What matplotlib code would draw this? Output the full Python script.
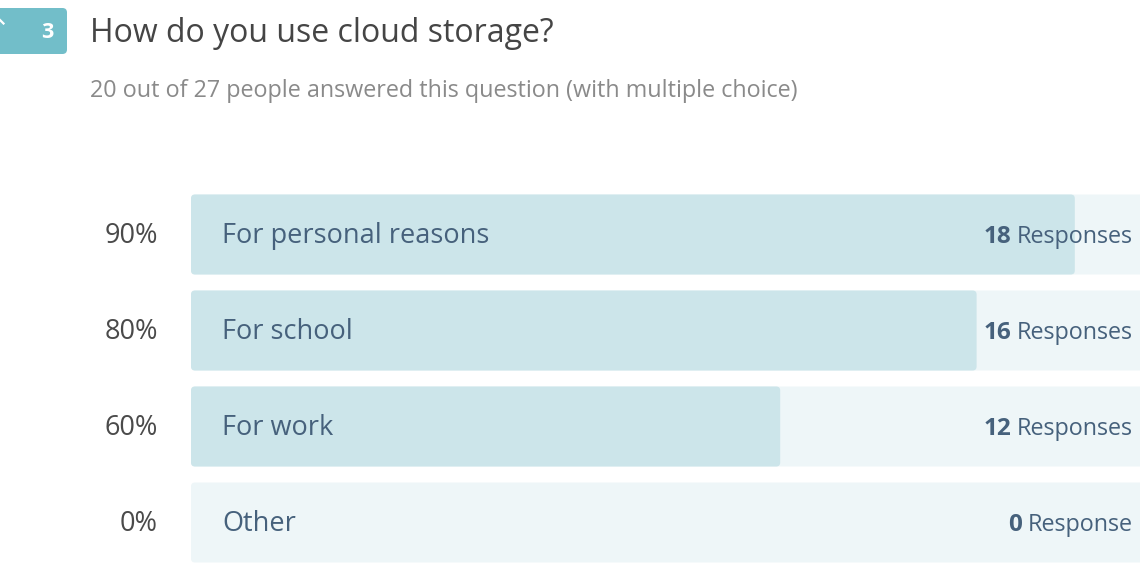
import matplotlib
matplotlib.use("Agg")
import matplotlib.pyplot as plt
from matplotlib.patches import FancyBboxPatch
import matplotlib.transforms as mtransforms

# ---- data ----
categories = ["For personal reasons", "For school", "For work", "Other"]
percents = [90, 80, 60, 0]
responses = [18, 16, 12, 0]
question_number = "3"
title = "How do you use cloud storage?"
subtitle = "20 out of 27 people answered this question (with multiple choice)"

FONT = ["Open Sans", "DejaVu Sans"]
plt.rcParams["font.family"] = FONT

W, H = 1140, 574
fig = plt.figure(figsize=(W / 100, H / 100), dpi=100)
fig.patch.set_facecolor("white")

def fx(px):
    return px / W

def fy(py):
    return 1 - py / H

# ---- header ----
badge = FancyBboxPatch((fx(-20), fy(54)), fx(87), (54 - 8) / H,
                       boxstyle="round,pad=0,rounding_size=0.004",
                       mutation_aspect=W / H,
                       transform=fig.transFigure, facecolor="#72bec9",
                       edgecolor="none")
fig.patches.append(badge)
fig.text(fx(47), fy(38), question_number, color="white", fontsize=15.5,
         fontweight="bold", ha="center", va="baseline")
fig.add_artist(plt.Line2D([fx(0), fx(3.5)], [fy(20), fy(23.5)],
                          transform=fig.transFigure, color="white", lw=1.6))
fig.text(fx(90), fy(41.5), title, color="#454545", fontsize=23,
         ha="left", va="baseline")
fig.text(fx(90), fy(97), subtitle, color="#8a8a8a", fontsize=16.8,
         ha="left", va="baseline")

# ---- bars ----
left_px, full_px = 191, 982
row_px = 96
top_px = 234.5 - row_px / 2
n = len(categories)
ax = fig.add_axes([fx(left_px), fy(top_px + n * row_px), full_px / W, n * row_px / H])
ax.set_xlim(0, 100)
ax.set_ylim(n - 0.5, -0.5)
ax.axis("off")

bar_h = 80 / row_px
xpu = full_px / 100.0        # px per x unit
ypu = row_px                 # px per y unit
r_px = 4
aspect = (r_px / ypu) / (r_px / xpu)

track = ax.barh(range(n), [100] * n, height=bar_h, color="none")
fill = ax.barh(range(n), percents, height=bar_h, color="none")

def round_patch(rect, color):
    x, y = rect.get_x(), rect.get_y()
    w, h = rect.get_width(), rect.get_height()
    if w <= 0:
        return
    p = FancyBboxPatch((x, y), w, h,
                       boxstyle=f"round,pad=0,rounding_size={r_px / xpu}",
                       mutation_aspect=aspect, facecolor=color,
                       edgecolor="none", clip_on=False)
    ax.add_patch(p)

for rect in track:
    round_patch(rect, "#eef6f8")
for rect in fill:
    round_patch(rect, "#cce5ea")

blend = mtransforms.blended_transform_factory(fig.transFigure, ax.transData)
base = 8.5 / row_px
resp_texts = []
for i, (cat, pct, resp) in enumerate(zip(categories, percents, responses)):
    ax.text(fx(158), i + base, f"{pct}%", transform=blend, ha="right",
            va="baseline", fontsize=19.5, color="#4a4a4a", clip_on=False)
    ax.text(fx(222), i + base, cat, transform=blend, ha="left",
            va="baseline", fontsize=19.5, color="#46617c", clip_on=False)
    word = "Response" if resp == 1 or resp == 0 else "Responses"
    t = ax.text(fx(1133), i + base, word, transform=blend, ha="right",
                va="baseline", fontsize=16.8, color="#46617c", clip_on=False)
    resp_texts.append((t, i, resp))

fig.canvas.draw()
r = fig.canvas.get_renderer()
for t, i, resp in resp_texts:
    bb = t.get_window_extent(renderer=r)
    ax.text((bb.x0 - 6) / W, i + base, str(resp), transform=blend, ha="right",
            va="baseline", fontsize=17.5, fontweight="bold", color="#46617c",
            clip_on=False)

fig.savefig("out.png", dpi=100, facecolor="white")
